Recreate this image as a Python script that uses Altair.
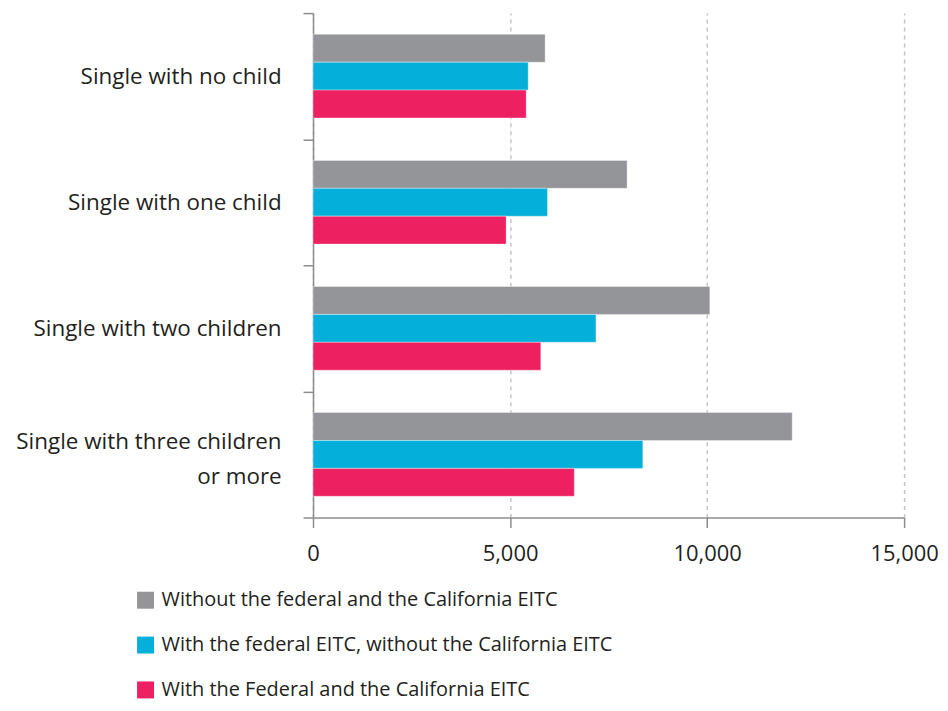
import altair as alt
import pandas as pd

categories = [
    "Single with no child",
    "Single with one child",
    "Single with two children",
    "Single with three children or more",
]
series = [
    "Without the federal and the California EITC",
    "With the federal EITC, without the California EITC",
    "With the Federal and the California EITC",
]
without_both = [5890, 7970, 10070, 12160]
federal_only = [5460, 5950, 7180, 8370]
federal_and_ca = [5410, 4900, 5780, 6630]
x_ticks = [0, 5000, 10000, 15000]
colors = ["#949599", "#04afd9", "#ed2062"]

rows = []
for vals, s in zip([without_both, federal_only, federal_and_ca], series):
    for c, v in zip(categories, vals):
        rows.append({"category": c, "series": s, "value": v})
df = pd.DataFrame(rows)

FONT = "Open Sans"
TXT = "#231f20"
AX = "#8a8c8e"

label_expr = (
    "datum.label == 'Single with three children or more' ? "
    "['Single with three children', 'or more'] : datum.label"
)

chart = alt.Chart(df).mark_bar(stroke="#ffffff", strokeWidth=0.6, strokeOpacity=0.6).encode(
    y=alt.Y(
        "category:N",
        sort=categories,
        scale=alt.Scale(paddingInner=0, paddingOuter=0),
        axis=alt.Axis(
            title=None,
            labelExpr=label_expr,
            labelFontSize=22.5,
            labelFont=FONT,
            labelColor=TXT,
            labelLimit=320,
            labelPadding=22,
            labelLineHeight=35,
            labelOffset={
                "condition": {"test": "indexof(datum.label, 'three') >= 0", "value": -13},
                "value": 0,
            },
            tickSize=10,
            tickBand="extent",
            tickColor=AX,
            tickWidth=1.5,
            domainColor=AX,
            domainWidth=1.5,
            grid=False,
        ),
    ),
    yOffset=alt.YOffset(
        "series:N",
        sort=series,
        scale=alt.Scale(paddingInner=0, paddingOuter=0.76),
    ),
    x=alt.X(
        "value:Q",
        scale=alt.Scale(domain=[0, 15000], nice=False),
        axis=alt.Axis(
            title=None,
            values=x_ticks,
            format=",d",
            labelFontSize=22,
            labelFont=FONT,
            labelColor=TXT,
            labelPadding=16,
            labelFlush=False,
            tickSize=10,
            tickColor=AX,
            tickWidth=1.5,
            domainColor=AX,
            domainWidth=1.5,
            grid=True,
            gridDash=[4, 4],
            gridColor="#c4c5c7",
            gridWidth=1.5,
        ),
    ),
    color=alt.Color(
        "series:N",
        sort=series,
        scale=alt.Scale(domain=series, range=colors),
        legend=alt.Legend(
            title=None,
            orient="none",
            legendX=-178,
            legendY=579,
            direction="vertical",
            symbolType="square",
            symbolSize=289,
            symbolStrokeWidth=0,
            labelFontSize=20,
            labelFont=FONT,
            labelColor=TXT,
            labelOffset=6,
            labelLimit=600,
            rowPadding=25,
        ),
    ),
).properties(
    width=593,
    height=506,
    padding={"left": 306, "top": 4, "right": 36, "bottom": 184},
    autosize=alt.AutoSizeParams(type="none"),
).configure_view(stroke=None)

chart.save("out.html", embed_options={"renderer": "svg", "actions": False})
